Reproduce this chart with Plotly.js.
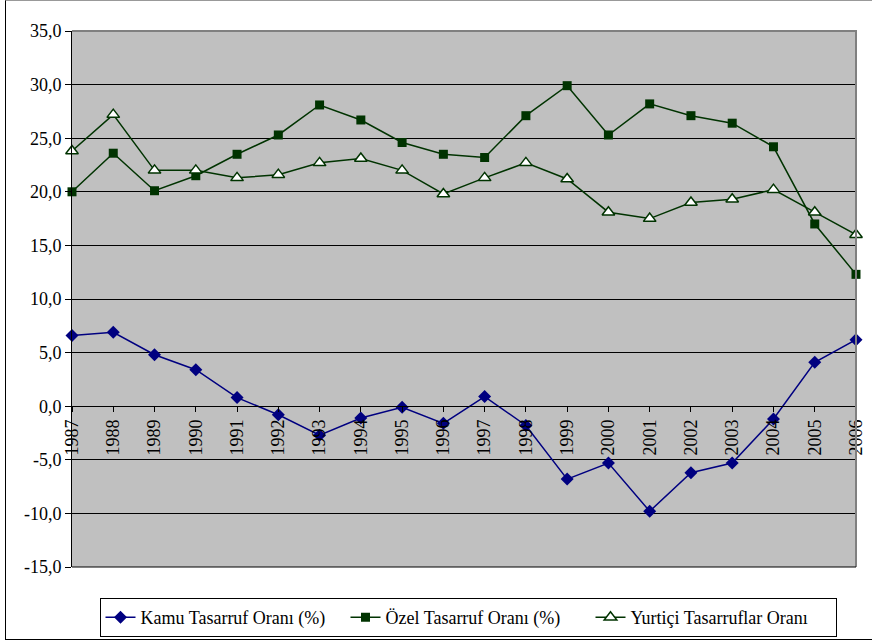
<!DOCTYPE html>
<html>
<head>
<meta charset="utf-8">
<script src="https://cdn.plot.ly/plotly-3.0.1.min.js"></script>
<style>
  html, body { margin: 0; padding: 0; background: #fff; }
  #wrap { position: relative; width: 872px; height: 643px; overflow: hidden; }
  #chart { position: absolute; left: 0; top: 0; width: 872px; height: 643px; }
  #frame { position: absolute; left: 5px; top: 0px; width: 900px; height: 638px;
           border-left: 1px solid #000; border-bottom: 1px solid #000; border-top: 1px solid #999;
           pointer-events: none; }
</style>
</head>
<body>
<div id="wrap">
  <div id="chart"></div>
  <div id="frame"></div>
</div>
<script>
const years = ['1987','1988','1989','1990','1991','1992','1993','1994','1995','1996',
               '1997','1998','1999','2000','2001','2002','2003','2004','2005','2006'];
const kamu = [6.6, 6.9, 4.8, 3.4, 0.8, -0.8, -2.7, -1.1, -0.1, -1.6,
              0.9, -1.8, -6.8, -5.3, -9.8, -6.2, -5.3, -1.2, 4.1, 6.2];
const ozel = [20.0, 23.6, 20.1, 21.5, 23.5, 25.3, 28.1, 26.7, 24.6, 23.5,
              23.2, 27.1, 29.9, 25.3, 28.2, 27.1, 26.4, 24.2, 17.0, 12.3];
const yurtici = [23.8, 27.2, 22.0, 22.0, 21.3, 21.6, 22.7, 23.1, 22.0, 19.8,
                 21.3, 22.7, 21.2, 18.1, 17.5, 19.0, 19.3, 20.2, 18.1, 16.0];
const seriesNames = ['Kamu Tasarruf Oranı (%)', 'Özel Tasarruf Oranı (%)', 'Yurtiçi Tasarruflar Oranı'];
const yTickVals = [-15, -10, -5, 0, 5, 10, 15, 20, 25, 30, 35];
const yTickText = ['-15,0', '-10,0', '-5,0', '0,0', '5,0', '10,0', '15,0', '20,0', '25,0', '30,0', '35,0'];

const FONT = 'Liberation Serif';
const blue = '#000080';
const green = '#003300';

const traces = [
  { x: years, y: kamu, name: seriesNames[0], type: 'scatter', mode: 'lines+markers', cliponaxis: false,
    line: { color: blue, width: 1.5 }, marker: { symbol: 'diamond', size: 10, color: blue } },
  { x: years, y: ozel, name: seriesNames[1], type: 'scatter', mode: 'lines+markers', cliponaxis: false,
    line: { color: green, width: 1.5 }, marker: { symbol: 'square', size: 9, color: green } },
  { x: years, y: yurtici, name: seriesNames[2], type: 'scatter', mode: 'lines+markers', cliponaxis: false,
    line: { color: green, width: 1.5 },
    marker: { symbol: 'triangle-up', size: 11, color: '#ffffff', line: { color: green, width: 1.5 } } }
];

const layout = {
  width: 872, height: 643,
  margin: { l: 72, r: 16, t: 31, b: 76, autoexpand: false },
  paper_bgcolor: '#ffffff',
  plot_bgcolor: '#c0c0c0',
  font: { family: FONT, size: 18, color: '#000' },
  showlegend: true,
  legend: {
    orientation: 'h', xref: 'container', yref: 'container',
    x: 468 / 872, xanchor: 'center', y: 1 - 598 / 643, yanchor: 'top',
    bgcolor: '#ffffff', bordercolor: '#000', borderwidth: 1,
    font: { family: FONT, size: 18, color: '#000' },
    itemwidth: 30, entrywidth: 200, entrywidthmode: 'pixels'
  },
  xaxis: {
    type: 'category', range: [0, 19], anchor: 'free', position: 0.3, automargin: false,
    showgrid: false, zeroline: false, showline: true, linecolor: '#000', linewidth: 1,
    ticks: 'outside', ticklen: 5, tickcolor: '#000', tickwidth: 1,
    tickangle: -90, tickfont: { family: FONT, size: 18, color: '#000' }
  },
  yaxis: {
    range: [-15, 35], domain: [0, 1], automargin: false,
    tickvals: yTickVals, ticktext: yTickText,
    showgrid: true, gridcolor: '#000', gridwidth: 1, zeroline: false,
    showline: true, linecolor: '#000', linewidth: 1,
    ticks: 'outside', ticklen: 6, tickcolor: '#000',
    tickfont: { family: FONT, size: 18, color: '#000' }
  },
  shapes: [
    { type: 'path', xref: 'paper', yref: 'paper', path: 'M 0,1 L 1,1 L 1,0',
      line: { color: '#808080', width: 2 }, layer: 'above' },
    { type: 'path', xref: 'paper', yref: 'paper', path: 'M 0,0 L 1,0',
      line: { color: '#000', width: 1 }, layer: 'above' }
  ]
};

Plotly.newPlot('chart', traces, layout, { displayModeBar: false, staticPlot: true });
</script>
</body>
</html>
